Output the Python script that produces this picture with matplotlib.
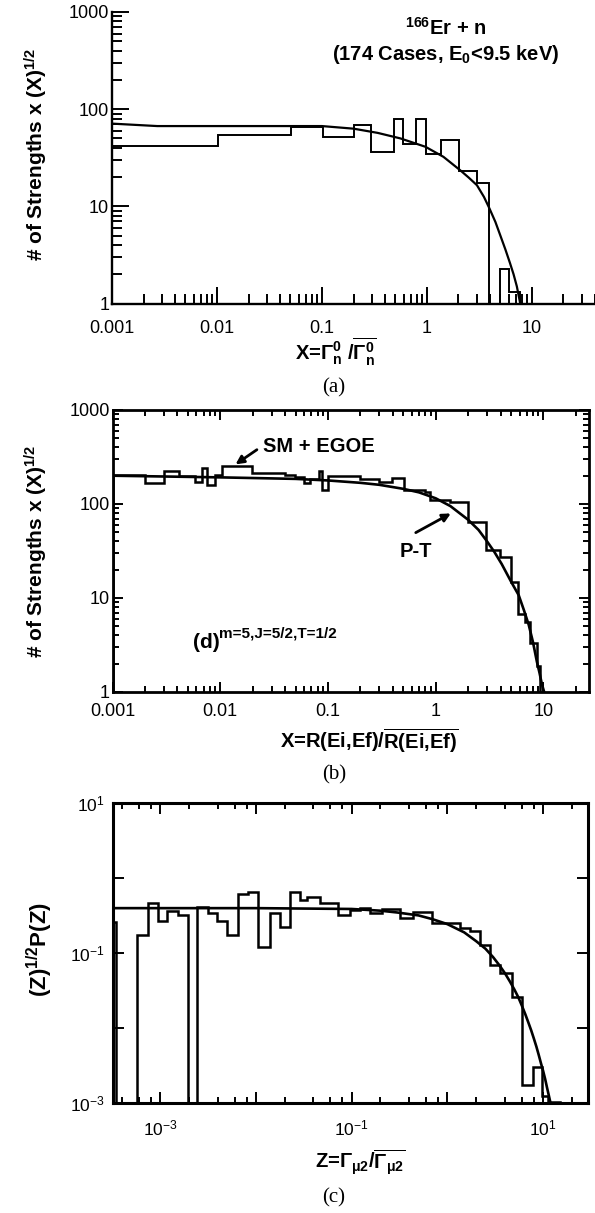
import numpy as np
import matplotlib
matplotlib.use('Agg')
import matplotlib.pyplot as plt
from matplotlib.ticker import LogLocator, FuncFormatter, FixedLocator, NullLocator, NullFormatter

plt.rcParams['font.family'] = ['Liberation Sans', 'DejaVu Sans']
plt.rcParams['mathtext.fontset'] = 'custom'
plt.rcParams['mathtext.rm'] = 'Liberation Sans'
plt.rcParams['mathtext.it'] = 'Liberation Sans:italic'
plt.rcParams['mathtext.bf'] = 'Liberation Sans:bold'
plt.rcParams['mathtext.sf'] = 'Liberation Sans'
plt.rcParams['axes.unicode_minus'] = False

# ---------------- data: panel (a) 166Er + n ----------------
a_edges = [0.001, 0.0102, 0.0506, 0.103, 0.200, 0.295, 0.491, 0.589, 0.790, 0.980,
           1.36, 2.03, 2.99, 3.95, 4.95, 6.0, 7.75]
a_counts = [41.9, 54.7, 65.6, 51.8, 69.4, 36.3, 80.0, 43.3, 80.0, 34.9,
            48.6, 23.2, 17.2, 0.0, 2.29, 1.32]
a_pt_x = [0.001, 0.0027, 0.01, 0.1, 0.2, 0.34, 0.56, 0.97, 1.44, 2.08, 2.5, 3.0,
          3.5, 3.95, 4.5, 5.0, 5.6, 6.2, 6.7, 7.2, 7.7, 7.9]
a_pt_y = [71, 67, 67, 67, 63, 57, 50, 41, 32.3, 23.5, 19.8, 16.5,
          12.5, 9.5, 6.9, 5.05, 3.6, 2.6, 2.0, 1.5, 1.04, 0.93]

# ---------------- data: panel (b) SM + EGOE ----------------
b_edges = [0.001, 0.00201, 0.00298, 0.0041, 0.00586, 0.00676, 0.0075, 0.0090, 0.0104,
           0.0197, 0.0401, 0.0496, 0.0593, 0.0685, 0.0818, 0.0879, 0.101, 0.20, 0.295,
           0.393, 0.504, 0.80, 0.89, 1.366, 1.98, 2.93, 3.98, 5.0, 5.8, 6.79, 7.56,
           8.72, 9.23]
b_counts = [205, 168, 222, 197, 172, 240, 158, 203, 254, 215,
            203, 192, 168, 185, 226, 141, 200, 186, 170, 190,
            140, 135, 110, 104, 63.7, 32.3, 27, 14.8, 6.8, 5.56,
            3.33, 1.9]
b_pt_x = [0.001, 0.01, 0.05, 0.1, 0.2, 0.3, 0.5, 0.7, 1.0, 1.37, 2.0, 2.5, 3.0, 3.5,
          4.1, 5.0, 5.9, 6.6, 7.3, 8.0, 8.7, 9.2, 9.7, 10.3, 10.6]
b_pt_y = [200, 192, 185, 178, 168, 160, 145, 133, 115, 95, 68, 53, 40, 31,
          23, 15, 10.7, 7.4, 5.2, 3.4, 2.1, 1.6, 1.2, 0.95, 0.85]

# ---------------- data: panel (c) ----------------
c_edges = [2.5e-4, 3.5e-4, 5.71e-4, 7.55e-4, 9.6e-4, 1.19e-3, 1.55e-3, 1.97e-3, 2.41e-3,
           3.19e-3, 3.91e-3, 4.97e-3, 6.56e-3, 8.35e-3, 0.0106, 0.0141, 0.0179, 0.0228,
           0.0289, 0.0340, 0.0468, 0.0726, 0.0962, 0.122, 0.156, 0.206, 0.320, 0.441,
           0.685, 0.984, 1.36, 1.72, 2.19, 2.78, 3.54, 4.69, 5.97, 7.77, 9.64, 11.3, 15.0]
c_vals = [0.264, 0.0, 0.175, 0.464, 0.27, 0.366, 0.324, 0.0, 0.419, 0.34,
          0.27, 0.175, 0.61, 0.664, 0.123, 0.341, 0.226, 0.664, 0.514, 0.568,
          0.473, 0.324, 0.378, 0.40, 0.348, 0.39, 0.298, 0.36, 0.251, 0.25,
          0.22, 0.20, 0.129, 0.0698, 0.054, 0.0264, 0.00175, 0.00308, 0.00125, 0.00105]
c_pt_x = [3.2e-4, 0.01, 0.1, 0.2, 0.3, 0.5, 0.7, 1.0, 1.5, 2.0, 2.5, 3.0, 3.5, 4.0, 4.5,
          5.0, 5.5, 6.0, 6.5, 7.0, 7.5, 8.0, 8.5, 9.0, 9.5, 10.0, 10.5, 11.0, 11.5, 12.0]
c_pt_y = [0.40, 0.40, 0.39, 0.37, 0.35, 0.32, 0.285, 0.245, 0.19, 0.145, 0.115, 0.089,
          0.069, 0.054, 0.042, 0.033, 0.026, 0.020, 0.0155, 0.012, 0.0094, 0.0073,
          0.0057, 0.0044, 0.0034, 0.0027, 0.0021, 0.0016, 0.00125, 0.00098]

# ---------------- layout ----------------
W, H = 595, 1213
fig = plt.figure(figsize=(W / 100, H / 100), dpi=100)
LFS = 14.5


def ax_px(l, t, r, b):
    return fig.add_axes([l / W, 1 - b / H, (r - l) / W, (b - t) / H])


def ftext(px, py, s, **kw):
    fig.text(px / W, 1 - py / H, s, **kw)


plain = FuncFormatter(lambda v, p: f'{v:g}')
ylab = '# of Strengths x (X)$^{\\mathbf{1/2}}$'

# ---------------- panel (a) ----------------
ax = ax_px(112, 12, 595, 303.5)
ax.set_xscale('log')
ax.set_yscale('log')
ax.set_xlim(1e-3, 40)
ax.set_ylim(1, 1000)
floor_a = 0.5
ax.stairs(np.maximum(a_counts, floor_a), a_edges, baseline=floor_a, color='k', lw=1.4)
ax.plot(a_pt_x, a_pt_y, color='k', lw=1.6)
for s in ('top', 'right'):
    ax.spines[s].set_visible(False)
for s in ('left', 'bottom'):
    ax.spines[s].set_linewidth(1.7)
ax.xaxis.set_major_locator(FixedLocator([1e-3, 1e-2, 1e-1, 1, 10]))
ax.yaxis.set_major_locator(FixedLocator([1, 10, 100, 1000]))
ax.xaxis.set_minor_locator(LogLocator(base=10, subs=np.arange(2, 10), numticks=30))
ax.yaxis.set_minor_locator(LogLocator(base=10, subs=np.arange(2, 10), numticks=30))
ax.xaxis.set_major_formatter(plain)
ax.yaxis.set_major_formatter(plain)
ax.xaxis.set_minor_formatter(NullFormatter())
ax.yaxis.set_minor_formatter(NullFormatter())
ax.tick_params(which='both', direction='in', top=False, right=False, labelsize=13, width=1.4)
ax.tick_params(which='major', length=12)
ax.tick_params(which='minor', length=7.5)
ax.tick_params(axis='x', pad=12)
ax.tick_params(axis='y', pad=2)
ftext(446, 28, '$^{\\mathbf{166}}$Er + n', ha='center', va='center', fontsize=LFS, fontweight='bold')
ftext(446, 54, '(174 Cases, E$_{\\mathbf{0}}$<9.5 keV)', ha='center', va='center',
      fontsize=LFS, fontweight='bold')
ftext(36, 154, ylab, rotation=90, ha='center', va='center', fontsize=15, fontweight='bold')
ftext(336, 352, 'X=$\\mathbf{\\Gamma_n^0\\ /\\overline{\\Gamma_n^0}}$', ha='center', va='center',
      fontsize=LFS, fontweight='bold')
ftext(334, 388, '(a)', ha='center', va='center', fontsize=15, family='Liberation Serif')

# ---------------- panel (b) ----------------
ax = ax_px(112.5, 410, 589, 692)
ax.set_xscale('log')
ax.set_yscale('log')
ax.set_xlim(1e-3, 26.5)
ax.set_ylim(1, 1000)
floor_b = 0.5
ax.stairs(np.maximum(b_counts, floor_b), b_edges, baseline=floor_b, color='k', lw=1.8)
ax.plot(b_pt_x, b_pt_y, color='k', lw=1.9)
for s in ax.spines.values():
    s.set_linewidth(2.0)
ax.xaxis.set_major_locator(FixedLocator([1e-3, 1e-2, 1e-1, 1, 10]))
ax.yaxis.set_major_locator(FixedLocator([1, 10, 100, 1000]))
ax.xaxis.set_minor_locator(LogLocator(base=10, subs=np.arange(2, 10), numticks=30))
ax.yaxis.set_minor_locator(LogLocator(base=10, subs=np.arange(2, 10), numticks=30))
ax.xaxis.set_major_formatter(plain)
ax.yaxis.set_major_formatter(plain)
ax.xaxis.set_minor_formatter(NullFormatter())
ax.yaxis.set_minor_formatter(NullFormatter())
ax.tick_params(which='both', direction='in', top=True, right=True, labelsize=13, width=1.4)
ax.tick_params(which='major', length=7)
ax.tick_params(which='minor', length=4)
ax.tick_params(axis='x', pad=8)
ax.tick_params(axis='y', pad=2)
ax.text(0.025, 414, 'SM + EGOE', ha='left', va='center', fontsize=LFS, fontweight='bold')
ax.annotate('', xy=(0.0132, 254), xytext=(0.023, 393),
            arrowprops=dict(arrowstyle='-|>', color='k', lw=2.0, mutation_scale=12))
ax.text(0.66, 31.5, 'P-T', ha='center', va='center', fontsize=LFS, fontweight='bold')
ax.annotate('', xy=(1.456, 82), xytext=(0.62, 48),
            arrowprops=dict(arrowstyle='-|>', color='k', lw=2.0, mutation_scale=12))
ftext(193, 642, '(d)', ha='left', va='center', fontsize=15, fontweight='bold')
ftext(219, 634, 'm=5,J=5/2,T=1/2', ha='left', va='center', fontsize=11, fontweight='bold')
ftext(36, 551, ylab, rotation=90, ha='center', va='center', fontsize=15, fontweight='bold')
ftext(369, 741, 'X=R(Ei,Ef)/$\\mathbf{\\overline{R(Ei{,}Ef)}}$', ha='center', va='center',
      fontsize=LFS, fontweight='bold')
ftext(334, 775, '(b)', ha='center', va='center', fontsize=15, family='Liberation Serif')

# ---------------- panel (c) ----------------
ax = ax_px(113, 803.3, 588, 1103.3)
ax.set_xscale('log')
ax.set_yscale('log')
ax.set_xlim(3.23e-4, 29.4)
ax.set_ylim(1e-3, 10)
floor_c = 5e-4
ax.stairs(np.maximum(c_vals, floor_c), c_edges, baseline=floor_c, color='k', lw=1.8)
ax.plot(c_pt_x, c_pt_y, color='k', lw=1.9)
for s in ax.spines.values():
    s.set_linewidth(2.2)


def sci_odd(v, p):
    e = int(round(np.log10(v)))
    if e % 2 != 0:
        return '$\\mathdefault{10^{%d}}$' % e
    return ''


ax.xaxis.set_major_locator(FixedLocator([1e-3, 1e-2, 1e-1, 1, 10]))
ax.yaxis.set_major_locator(FixedLocator([1e-3, 1e-2, 1e-1, 1, 10]))
ax.xaxis.set_minor_locator(LogLocator(base=10, subs=(2, 4, 6, 8), numticks=30))
ax.yaxis.set_minor_locator(NullLocator())
ax.xaxis.set_major_formatter(FuncFormatter(sci_odd))
ax.yaxis.set_major_formatter(FuncFormatter(sci_odd))
ax.xaxis.set_minor_formatter(NullFormatter())
ax.tick_params(which='both', direction='in', top=True, right=True, labelsize=12.5, width=1.4)
ax.tick_params(which='major', length=8)
ax.tick_params(which='minor', length=4.5)
ax.tick_params(axis='x', pad=11)
ax.tick_params(axis='y', pad=6)
ftext(40, 950, '(Z)$^{\\mathbf{1/2}}$P(Z)', rotation=90, ha='center', va='center', fontsize=16,
      fontweight='bold')
ftext(360, 1163, 'Z=$\\mathbf{\\Gamma_{\\mu 2}/\\overline{\\Gamma_{\\mu 2}}}$', ha='center',
      va='center', fontsize=LFS, fontweight='bold')
ftext(334, 1198, '(c)', ha='center', va='center', fontsize=15, family='Liberation Serif')

fig.savefig('out.png', dpi=100)
